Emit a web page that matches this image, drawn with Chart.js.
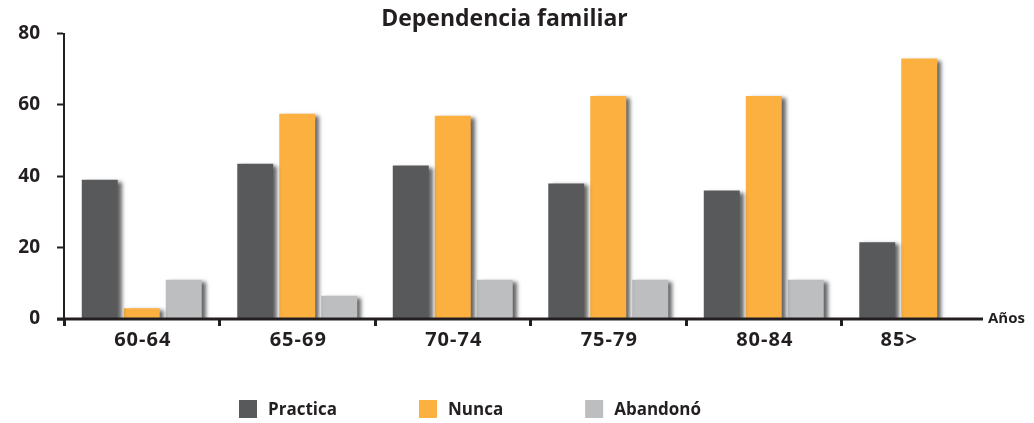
<!DOCTYPE html>
<html>
<head>
<meta charset="utf-8">
<title>Dependencia familiar</title>
<script src="https://cdn.jsdelivr.net/npm/chart.js@4.4.1/dist/chart.umd.min.js"></script>
<style>
  html, body { margin: 0; padding: 0; background: #fff; }
  #wrap { width: 1034px; height: 423px; }
</style>
</head>
<body>
<div id="wrap"><canvas id="dependencia-chart"></canvas></div>
<script>
// age groups and the three answers (%)
const ageGroups = ['60-64', '65-69', '70-74', '75-79', '80-84', '85>'];
const practica = [39, 43.5, 43, 38, 36, 21.5];
const nunca = [3, 57.5, 57, 62.5, 62.5, 73];
const abandono = [11, 6.5, 11, 11, 11, null];
const yTicks = [0, 20, 40, 60, 80];

const ink = '#231f20';
const fontFamily = "'Open Sans', sans-serif";

// soft drop shadow behind every bar
const barShadow = {
    id: 'barShadow',
    beforeDatasetsDraw(chart) {
        const ctx = chart.ctx;
        ctx.save();
        ctx.shadowColor = 'rgba(0, 0, 0, 0.6)';
        ctx.shadowBlur = 4;
        ctx.shadowOffsetX = 4;
        ctx.shadowOffsetY = 2;
    },
    afterDatasetsDraw(chart) {
        chart.ctx.restore();
    }
};

// x axis line, "Años", group labels under the bars and the legend
const axisExtras = {
    id: 'axisExtras',
    afterDraw(chart) {
        const ctx = chart.ctx;
        const area = chart.chartArea;
        const lineEnd = area.right - 14;

        ctx.save();
        ctx.strokeStyle = ink;
        ctx.lineWidth = 3;
        ctx.beginPath();
        ctx.moveTo(area.left - 7, area.bottom);
        ctx.lineTo(lineEnd, area.bottom);
        ctx.stroke();

        ctx.fillStyle = ink;
        ctx.font = 'bold 15px ' + fontFamily;
        ctx.textAlign = 'left';
        ctx.textBaseline = 'middle';
        ctx.fillText('Años', lineEnd + 5, area.bottom);

        // each label sits under the middle of the bars it has
        ctx.font = 'bold 20px ' + fontFamily;
        ctx.textAlign = 'center';
        ctx.letterSpacing = '1px';
        ageGroups.forEach((label, i) => {
            let xs = [];
            chart.data.datasets.forEach((ds, d) => {
                if (ds.data[i] !== null) {
                    xs.push(chart.getDatasetMeta(d).data[i].x);
                }
            });
            let cx = xs.reduce((a, b) => a + b, 0) / xs.length;
            ctx.fillText(label, cx + 1, area.bottom + 21);
        });
        ctx.letterSpacing = '0px';

        // legend
        ctx.font = 'bold 17px ' + fontFamily;
        ctx.textAlign = 'left';
        let x = 239;
        const top = 400;
        for (const ds of chart.data.datasets) {
            ctx.fillStyle = ds.backgroundColor;
            ctx.fillRect(x, top, 18, 18);
            ctx.fillStyle = ink;
            ctx.fillText(ds.label, x + 29, top + 10);
            x += 29 + ctx.measureText(ds.label).width + 82;
        }
        ctx.restore();
    }
};

const ctx = document.getElementById('dependencia-chart');

const chart = new Chart(ctx, {
    type: 'bar',
    data: {
        labels: ageGroups,
        datasets: [
            { label: 'Practica', data: practica, backgroundColor: '#58595b' },
            { label: 'Nunca', data: nunca, backgroundColor: '#fbb040' },
            { label: 'Abandonó', data: abandono, backgroundColor: '#bcbec0' }
        ]
    },
    options: {
        responsive: true,
        maintainAspectRatio: false,
        animation: false,
        categoryPercentage: 0.81,
        barPercentage: 0.857,
        layout: {
            padding: { left: 12, right: 37, top: 0, bottom: 0 }
        },
        plugins: {
            legend: { display: false },
            tooltip: { enabled: false },
            title: {
                display: true,
                text: 'Dependencia familiar',
                color: ink,
                font: { family: fontFamily, size: 23, weight: 'bold' },
                padding: { top: 6, bottom: 0 }
            }
        },
        scales: {
            x: {
                afterFit(scale) { scale.height = 104; },
                border: { display: false },
                grid: {
                    drawOnChartArea: false,
                    drawTicks: true,
                    tickLength: 7,
                    tickWidth: 3,
                    tickColor: c => c.type === 'tick' ? ink : 'rgba(0,0,0,0)'
                },
                ticks: { display: false }
            },
            y: {
                min: 0,
                max: 80,
                afterFit(scale) { scale.width = 52; },
                afterBuildTicks(scale) {
                    scale.ticks = yTicks.map(v => ({ value: v }));
                },
                border: { display: true, color: ink, width: 2 },
                grid: {
                    drawOnChartArea: false,
                    drawTicks: true,
                    tickLength: 7,
                    tickWidth: 2,
                    tickColor: ink
                },
                ticks: {
                    color: ink,
                    padding: 17,
                    font: { family: fontFamily, size: 19, weight: 'bold' }
                }
            }
        }
    },
    plugins: [barShadow, axisExtras]
});
</script>
</body>
</html>
